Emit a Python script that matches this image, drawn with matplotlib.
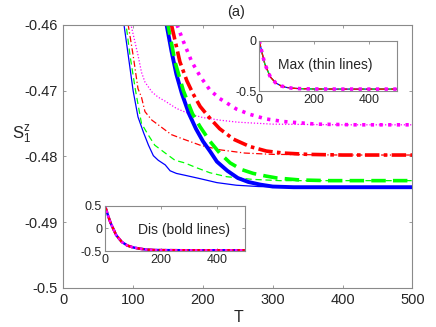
import matplotlib
matplotlib.use("Agg")
import matplotlib.pyplot as plt

plt.rcParams['font.family'] = ['Liberation Sans', 'DejaVu Sans']
plt.rcParams['mathtext.fontset'] = 'custom'
plt.rcParams['mathtext.rm'] = 'Liberation Sans'
plt.rcParams['mathtext.it'] = 'Liberation Sans'
plt.rcParams['mathtext.default'] = 'regular'

# ---------------- main panel data ----------------
# thin lines (Max)
T_blue_thin = [75, 87, 93, 100, 107, 115, 122, 129, 136, 146, 153, 162, 175, 196, 220, 248, 280, 320, 400, 500]
S_blue_thin = [-0.452, -0.460, -0.4646, -0.4700, -0.4740, -0.4764, -0.4783, -0.4799, -0.4806, -0.4813,
               -0.4822, -0.4826, -0.4829, -0.4834, -0.4840, -0.4844, -0.4846, -0.4847, -0.4847, -0.4847]

T_green_thin = [78, 90, 95.5, 103, 112, 122, 131, 146, 160, 174, 190, 210, 234, 270, 310, 400, 500]
S_green_thin = [-0.452, -0.460, -0.4646, -0.4697, -0.4750, -0.4768, -0.4783, -0.4795, -0.4806, -0.4810,
                -0.4817, -0.4825, -0.4831, -0.4835, -0.4837, -0.4837, -0.4837]

T_red_thin = [80, 93, 100, 107, 112, 117, 127, 136, 146, 155, 170, 196, 224, 260, 300, 400, 500]
S_red_thin = [-0.452, -0.460, -0.4646, -0.4697, -0.4710, -0.4732, -0.4745, -0.4752, -0.4760, -0.4767,
              -0.4773, -0.4783, -0.4790, -0.4795, -0.4797, -0.4798, -0.4798]

T_mag_thin = [85, 97, 107, 112, 117, 127, 136, 146, 162, 180, 200, 225, 250, 300, 400, 500]
S_mag_thin = [-0.453, -0.460, -0.4646, -0.4672, -0.4687, -0.4702, -0.4710, -0.4716, -0.4727, -0.4735,
              -0.4741, -0.4745, -0.4748, -0.4751, -0.4752, -0.4752]

# bold lines (Dis)
T_blue_bold = [140, 148, 155, 162, 170, 180, 190, 200, 210, 220, 235, 250, 265, 282, 300, 330, 400, 500]
S_blue_bold = [-0.455, -0.460, -0.4640, -0.4675, -0.4705, -0.4735, -0.4758, -0.4777, -0.4792, -0.4808,
               -0.4822, -0.4833, -0.4839, -0.4843, -0.4846, -0.4847, -0.4847, -0.4847]

T_green_bold = [143, 150, 160, 172, 185, 196, 210, 224, 239, 255, 272, 290, 306, 339, 380, 500]
S_green_bold = [-0.455, -0.460, -0.4656, -0.4700, -0.4735, -0.4755, -0.4777, -0.4795, -0.4810, -0.4820,
                -0.4826, -0.4830, -0.4833, -0.4836, -0.4837, -0.4837]

T_red_bold = [148, 155, 167, 177, 186, 196, 210, 224, 244, 267, 291, 315, 350, 400, 500]
S_red_bold = [-0.455, -0.460, -0.4656, -0.4685, -0.4705, -0.4724, -0.4742, -0.4758, -0.4774, -0.4785,
              -0.4792, -0.4795, -0.4797, -0.4798, -0.4798]

T_mag_bold = [155, 163, 172, 184, 196, 210, 224, 248, 267, 290, 315, 363, 420, 500]
S_mag_bold = [-0.455, -0.460, -0.4625, -0.4656, -0.4678, -0.4699, -0.4712, -0.4728, -0.4736, -0.4743,
              -0.4747, -0.4751, -0.4752, -0.4752]

# ---------------- inset data ----------------
T_max = [0, 10, 20, 40, 60, 80, 100, 120, 150, 200, 300, 500]
S_max = [0.0, -0.12, -0.23, -0.36, -0.42, -0.45, -0.465, -0.472, -0.477, -0.480, -0.481, -0.481]

T_dis = [0, 10, 20, 40, 60, 80, 100, 125, 150, 175, 200, 300, 500]
S_dis = [0.5, 0.30, 0.12, -0.15, -0.30, -0.38, -0.42, -0.45, -0.47, -0.478, -0.481, -0.484, -0.484]

x_ticks = [0, 100, 200, 300, 400, 500]
y_ticks = [-0.5, -0.49, -0.48, -0.47, -0.46]
y_ticklabels = ['-0.5', '-0.49', '-0.48', '-0.47', '-0.46']

BLUE, GREEN, RED, MAG = '#0000ff', '#00ff00', '#ff0000', '#ff00ff'
SPINE = '#8a8a8a'
TXT = '#262626'

fig = plt.figure(figsize=(4.36, 3.27), dpi=100)
ax = fig.add_axes([0.1452, 0.1202, 0.8005, 0.8034])


def style(a, fs):
    for s in a.spines.values():
        s.set_color(SPINE)
        s.set_linewidth(0.8)
    a.tick_params(direction='in', top=True, right=True, length=2.5, width=0.6,
                  color=SPINE, labelcolor=TXT, labelsize=fs, pad=2)


# thin
ax.plot(T_blue_thin, S_blue_thin, color=BLUE, lw=0.9, ls='-')
ax.plot(T_green_thin, S_green_thin, color=GREEN, lw=0.9, ls=(0, (5, 3)))
ax.plot(T_red_thin, S_red_thin, color=RED, lw=0.9, ls=(0, (5, 2, 1, 2)))
ax.plot(T_mag_thin, S_mag_thin, color=MAG, lw=0.9, ls=(0, (1, 1.5)))
# bold
ax.plot(T_blue_bold, S_blue_bold, color=BLUE, lw=2.8, ls='-')
ax.plot(T_green_bold, S_green_bold, color=GREEN, lw=2.6, ls=(0, (4, 2)))
ax.plot(T_red_bold, S_red_bold, color=RED, lw=2.6, ls=(0, (4, 1.2, 1, 1.2)))
ax.plot(T_mag_bold, S_mag_bold, color=MAG, lw=2.6, ls=(0, (0.9, 1.5)))

ax.set_xlim(0, 500)
ax.set_ylim(-0.5, -0.46)
ax.set_xticks(x_ticks)
ax.set_yticks(y_ticks)
ax.set_yticklabels(y_ticklabels)
style(ax, 10.5)
ax.tick_params(pad=4)

fig.text(236 / 436, 1 - 12 / 327, '(a)', ha='center', va='center', fontsize=10.5, color=TXT)
fig.text(238 / 436, 1 - 318 / 327, 'T', ha='center', va='center', fontsize=11.5, color=TXT)
fig.text(22 / 436, 1 - 135 / 327, '$S_1^z$', ha='center', va='center', fontsize=12, color=TXT)

# Max inset
axm = fig.add_axes([0.5947, 0.7217, 0.3151, 0.1538])
axm.plot(T_max, S_max, color=BLUE, lw=0.9, ls='-')
axm.plot(T_max, S_max, color=GREEN, lw=0.9, ls=(0, (5, 3)))
axm.plot(T_max, S_max, color=RED, lw=0.9, ls=(0, (5, 2, 1, 2)))
axm.plot(T_max, S_max, color=MAG, lw=2.6, ls=(0, (0.9, 1.5)))
axm.set_xlim(0, 500)
axm.set_ylim(-0.5, 0)
axm.set_xticks([0, 200, 400])
axm.set_yticks([-0.5, 0])
axm.set_yticklabels(['-0.5', '0'])
style(axm, 9)
axm.text(0.483, 0.52, 'Max (thin lines)', transform=axm.transAxes, ha='center', va='center',
         fontsize=10, color=TXT)

# Dis inset
axd = fig.add_axes([0.2408, 0.2324, 0.3211, 0.1385])
axd.plot(T_dis, S_dis, color=BLUE, lw=1.8, ls='-')
axd.plot(T_dis, S_dis, color=RED, lw=1.8, ls=(0, (3, 1.5)))
axd.plot(T_dis, S_dis, color=MAG, lw=1.8, ls=(0, (1, 1)))
axd.set_xlim(0, 500)
axd.set_ylim(-0.5, 0.5)
axd.set_xticks([0, 200, 400])
axd.set_yticks([-0.5, 0, 0.5])
axd.set_yticklabels(['-0.5', '0', '0.5'])
style(axd, 9)
axd.text(0.566, 0.46, 'Dis (bold lines)', transform=axd.transAxes, ha='center', va='center',
         fontsize=10, color=TXT)

fig.savefig('out.png', dpi=100)
